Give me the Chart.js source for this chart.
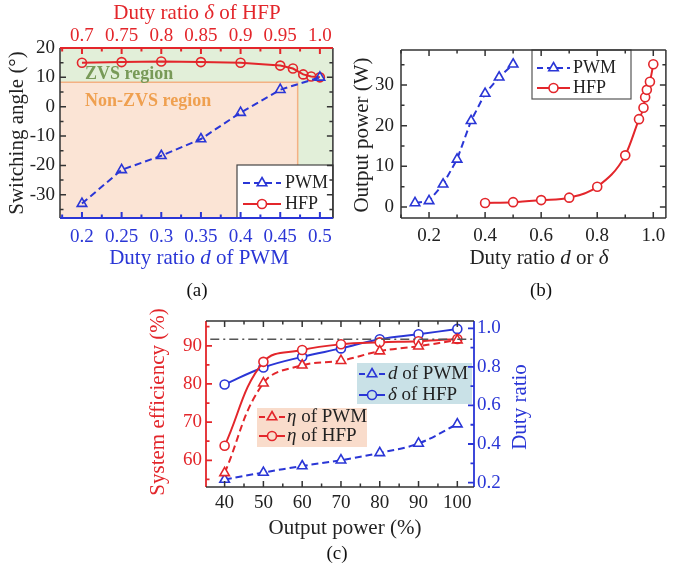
<!DOCTYPE html>
<html>
<head>
<meta charset="utf-8">
<script src="https://cdn.jsdelivr.net/npm/chart.js@4/dist/chart.umd.min.js"></script>
<style>
html, body { margin: 0; padding: 0; background: #fff; }
#wrap { position: relative; width: 673px; height: 566px; overflow: hidden; font-family: "Liberation Serif", "Times New Roman", serif; }
canvas { position: absolute; }
.cap { position: absolute; font-size: 19px; color: #111; transform: translate(-50%, -50%); white-space: nowrap; }
</style>
</head>
<body>
<div id="wrap">
  <canvas id="chartA" width="340" height="280" style="left:0;top:0"></canvas>
  <canvas id="chartB" width="333" height="280" style="left:340px;top:0"></canvas>
  <canvas id="chartC" width="410" height="266" style="left:130px;top:300px"></canvas>
  <div class="cap" style="left:197px;top:290px">(a)</div>
  <div class="cap" style="left:541px;top:290px">(b)</div>
  <div class="cap" style="left:337px;top:553px">(c)</div>
</div>
<script>
// (a) switching angle vs duty ratio
const pwmDutyA = [0.2, 0.25, 0.3, 0.35, 0.4, 0.45, 0.5];
const pwmAngleA = [-33, -21.5, -16.7, -11, -2, 5.8, 10];
const hfpDutyA = [0.7, 0.75, 0.8, 0.85, 0.9, 0.95, 0.966, 0.979, 0.989, 1.0];
const hfpAngleA = [15, 15.2, 15.4, 15.2, 15, 14, 13, 11, 10.3, 10];
const zvsEdgeDuty = 0.472;   // d where non-ZVS region ends
const zvsEdgeAngle = 8.3;    // angle where non-ZVS region ends
const aPwmTicks = [0.2, 0.25, 0.3, 0.35, 0.4, 0.45, 0.5];
const aHfpTicks = [0.7, 0.75, 0.8, 0.85, 0.9, 0.95, 1.0];
const aAngleTicks = [-30, -20, -10, 0, 10, 20];

// (b) output power vs duty ratio
const pwmDutyB = [0.15, 0.2, 0.25, 0.3, 0.35, 0.4, 0.45, 0.5];
const pwmPowerB = [1, 1.5, 5.6, 11.7, 21.2, 27.9, 31.9, 35.1];
const hfpDutyB = [0.4, 0.5, 0.6, 0.7, 0.8, 0.9, 0.949, 0.965, 0.971, 0.977, 0.988, 1.0];
const hfpPowerB = [1, 1.2, 1.7, 2.3, 5, 12.7, 21.6, 24.4, 27, 28.8, 30.8, 35.1];
const bDutyTicks = [0.2, 0.4, 0.6, 0.8, 1.0];
const bPowerTicks = [0, 10, 20, 30];

// (c) efficiency and duty ratio vs output power
const powerPct = [40, 50, 60, 70, 80, 90, 100];
const effPwm = [56.7, 80.2, 84.9, 86.1, 88.6, 89.9, 91.5];
const effHfp = [63.8, 85.8, 88.9, 90.4, 90.9, 91.2, 91.8];
const dutyPwm = [0.216, 0.252, 0.286, 0.316, 0.354, 0.403, 0.503];
const deltaHfp = [0.709, 0.797, 0.852, 0.896, 0.943, 0.969, 0.997];
const refLineX = [36.3, 104.3];
const refLineEff = [91.7, 91.7];
const cPowerTicks = [40, 50, 60, 70, 80, 90, 100];
const cEffTicks = [60, 70, 80, 90];
const cDutyTicks = [0.2, 0.4, 0.6, 0.8, 1.0];

const SERIF = '"Liberation Serif", "Times New Roman", serif';
const RED = '#e3262b';
const BLUE = '#2a36d6';
const INK = '#222';

function pts(xs, ys) {
  return xs.map((x, i) => ({ x: x, y: ys[i] }));
}

// text with italic pieces, centred on (x, y)
function rich(ctx, parts, x, y, size, color, angle, weight) {
  ctx.save();
  ctx.translate(x, y);
  if (angle) ctx.rotate(angle);
  ctx.fillStyle = color;
  ctx.textBaseline = 'middle';
  ctx.textAlign = 'left';
  const fonts = parts.map(p => (p[1] ? 'italic ' : '') + (weight || '') + ' ' + size + 'px ' + SERIF);
  let w = 0;
  parts.forEach((p, i) => { ctx.font = fonts[i]; w += ctx.measureText(p[0]).width; });
  let cx = -w / 2;
  parts.forEach((p, i) => { ctx.font = fonts[i]; ctx.fillText(p[0], cx, 0); cx += ctx.measureText(p[0]).width; });
  ctx.restore();
}

function leftText(ctx, parts, x, y, size, color, weight) {
  ctx.save();
  ctx.fillStyle = color;
  ctx.textBaseline = 'middle';
  ctx.textAlign = 'left';
  let cx = x;
  parts.forEach(p => {
    ctx.font = (p[1] ? 'italic ' : '') + (weight || '') + ' ' + size + 'px ' + SERIF;
    ctx.fillText(p[0], cx, y);
    cx += ctx.measureText(p[0]).width;
  });
  ctx.restore();
}

// frame side with inward major and minor ticks
function drawSide(chart, scaleId, side, color, width) {
  const { ctx, chartArea: a } = chart;
  const s = chart.scales[scaleId];
  const major = s.ticks.map(t => t.value);
  const step = (major[1] - major[0]) / 2;
  const k0 = Math.ceil((s.min - major[0]) / step - 1e-6);
  const k1 = Math.floor((s.max - major[0]) / step + 1e-6);
  ctx.save();
  ctx.strokeStyle = color;
  ctx.lineWidth = width;
  ctx.beginPath();
  if (side === 'left') { ctx.moveTo(a.left, a.top); ctx.lineTo(a.left, a.bottom); }
  if (side === 'right') { ctx.moveTo(a.right, a.top); ctx.lineTo(a.right, a.bottom); }
  if (side === 'top') { ctx.moveTo(a.left, a.top); ctx.lineTo(a.right, a.top); }
  if (side === 'bottom') { ctx.moveTo(a.left, a.bottom); ctx.lineTo(a.right, a.bottom); }
  for (let k = k0; k <= k1; k++) {
    const len = k % 2 === 0 ? 6 : 3.5;
    const p = s.getPixelForValue(major[0] + k * step);
    if (side === 'left') { ctx.moveTo(a.left, p); ctx.lineTo(a.left + len, p); }
    if (side === 'right') { ctx.moveTo(a.right, p); ctx.lineTo(a.right - len, p); }
    if (side === 'top') { ctx.moveTo(p, a.top); ctx.lineTo(p, a.top + len); }
    if (side === 'bottom') { ctx.moveTo(p, a.bottom); ctx.lineTo(p, a.bottom - len); }
  }
  ctx.stroke();
  ctx.restore();
}

function legendBox(ctx, box, items, size) {
  ctx.save();
  if (box.fill) { ctx.fillStyle = box.fill; ctx.fillRect(box.x, box.y, box.w, box.h); }
  if (box.stroke) { ctx.strokeStyle = box.stroke; ctx.lineWidth = 1.2; ctx.strokeRect(box.x, box.y, box.w, box.h); }
  items.forEach(it => {
    const cx = (it.x0 + it.x1) / 2;
    ctx.strokeStyle = it.color;
    ctx.lineWidth = 2;
    ctx.setLineDash(it.dash || []);
    ctx.beginPath();
    ctx.moveTo(it.x0, it.y);
    ctx.lineTo(it.x1, it.y);
    ctx.stroke();
    ctx.setLineDash([]);
    ctx.fillStyle = box.fill || '#fff';
    ctx.lineWidth = 1.6;
    ctx.beginPath();
    if (it.style === 'circle') {
      ctx.arc(cx, it.y, 4.5, 0, Math.PI * 2);
    } else {
      const r = 5.5;
      ctx.moveTo(cx, it.y - r);
      ctx.lineTo(cx + r * 0.866, it.y + r / 2);
      ctx.lineTo(cx - r * 0.866, it.y + r / 2);
      ctx.closePath();
    }
    ctx.fill();
    ctx.stroke();
    leftText(ctx, it.text, it.tx, it.y, size, INK);
  });
  ctx.restore();
}

function axisOpts(ticks, fmt, color, size, pad, extra) {
  return Object.assign({
    type: 'linear',
    bounds: 'data',
    grid: { display: false, drawTicks: false },
    border: { display: false },
    ticks: { color: color, font: { family: SERIF, size: size }, padding: pad, autoSkip: false, maxRotation: 0, callback: fmt },
    afterBuildTicks: s => { s.ticks = ticks.map(v => ({ value: v })); }
  }, extra);
}

function fixSize(w, h) {
  return s => {
    if (w != null) s.width = w;
    if (h != null) s.height = h;
    s.paddingLeft = 0; s.paddingRight = 0; s.paddingTop = 0; s.paddingBottom = 0;
  };
}

const plain = v => String(v);
const oneDec = v => v.toFixed(1);
const topFmt = v => (v === 1 ? '1.0' : String(v));

const baseOpts = {
  responsive: false,
  animation: false,
  events: [],
  plugins: { legend: { display: false }, tooltip: { enabled: false } }
};

function lineSet(data, color, dashed, style, fill, extra) {
  return Object.assign({
    data: data,
    borderColor: color,
    borderWidth: 2,
    borderDash: dashed ? [7, 4] : [],
    pointStyle: style,
    pointRadius: style === 'triangle' ? 5.5 : 4.5,
    pointBorderColor: color,
    pointBackgroundColor: fill,
    pointBorderWidth: 1.6,
    tension: 0
  }, extra);
}

// ---------- (a) ----------
const chartAPlugin = {
  id: 'panelA',
  beforeDatasetsDraw(chart) {
    const { ctx, chartArea: a, scales } = chart;
    ctx.save();
    ctx.fillStyle = '#e2efd9';
    ctx.fillRect(a.left, a.top, a.right - a.left, a.bottom - a.top);
    const ex = scales.x.getPixelForValue(zvsEdgeDuty);
    const ey = scales.y.getPixelForValue(zvsEdgeAngle);
    ctx.fillStyle = '#fbe4d5';
    ctx.fillRect(a.left, ey, ex - a.left, a.bottom - ey);
    ctx.strokeStyle = '#f4b183';
    ctx.lineWidth = 1.5;
    ctx.beginPath();
    ctx.moveTo(a.left, ey);
    ctx.lineTo(ex, ey);
    ctx.lineTo(ex, a.bottom);
    ctx.stroke();
    ctx.restore();
    leftText(ctx, [['ZVS region']], 85, 74, 18, '#789a58', 'bold');
    leftText(ctx, [['Non-ZVS region']], 85, 101, 18, '#efa050', 'bold');
  },
  afterDatasetsDraw(chart) {
    const ctx = chart.ctx;
    legendBox(ctx, { x: 237, y: 165, w: 96, h: 53, fill: '#fff', stroke: '#444' }, [
      { y: 183, x0: 243, x1: 281, color: BLUE, dash: [7, 4], style: 'triangle', text: [['PWM']], tx: 285 },
      { y: 204, x0: 243, x1: 281, color: RED, style: 'circle', text: [['HFP']], tx: 285 }
    ], 18);
    drawSide(chart, 'y', 'left', '#333', 1.5);
    drawSide(chart, 'y', 'right', '#333', 1.5);
    drawSide(chart, 'x2', 'top', RED, 2);
    drawSide(chart, 'x', 'bottom', BLUE, 2);
  },
  afterDraw(chart) {
    const ctx = chart.ctx;
    rich(ctx, [['Switching angle (°)']], 17, 133, 21, INK, -Math.PI / 2);
    rich(ctx, [['Duty ratio '], ['d', true], [' of PWM']], 199, 258, 21, BLUE);
    rich(ctx, [['Duty ratio '], ['δ', true], [' of HFP']], 197, 13, 21, RED);
  }
};

new Chart(document.getElementById('chartA'), {
  type: 'line',
  data: {
    datasets: [
      lineSet(pts(pwmDutyA, pwmAngleA), BLUE, true, 'triangle', 'rgba(0,0,0,0)', { xAxisID: 'x', yAxisID: 'y' }),
      lineSet(pts(hfpDutyA, hfpAngleA), RED, false, 'circle', 'rgba(0,0,0,0)', { xAxisID: 'x2', yAxisID: 'y' })
    ]
  },
  options: Object.assign({}, baseOpts, {
    layout: { padding: { left: 0, right: 7, top: 0, bottom: 0 } },
    scales: {
      x: axisOpts(aPwmTicks, plain, BLUE, 19, 8, { position: 'bottom', min: 0.1723, max: 0.5164, afterFit: fixSize(null, 62) }),
      x2: axisOpts(aHfpTicks, topFmt, RED, 19, 1, { position: 'top', min: 0.6723, max: 1.0164, afterFit: fixSize(null, 48) }),
      y: axisOpts(aAngleTicks, plain, INK, 19, 5, { position: 'left', min: -37.9, max: 20, afterFit: fixSize(60, null) })
    }
  }),
  plugins: [chartAPlugin]
});

// ---------- (b) ----------
const chartBPlugin = {
  id: 'panelB',
  afterDatasetsDraw(chart) {
    const ctx = chart.ctx;
    legendBox(ctx, { x: 192, y: 50, w: 99, h: 49, fill: '#fff', stroke: '#555' }, [
      { y: 68, x0: 197, x1: 230, color: BLUE, dash: [6, 4], style: 'triangle', text: [['PWM']], tx: 233 },
      { y: 88, x0: 197, x1: 230, color: RED, style: 'circle', text: [['HFP']], tx: 233 }
    ], 18);
    drawSide(chart, 'y', 'left', '#333', 1.5);
    drawSide(chart, 'y', 'right', '#333', 1.5);
    drawSide(chart, 'x', 'top', '#333', 1.5);
    drawSide(chart, 'x', 'bottom', '#333', 1.5);
  },
  afterDraw(chart) {
    const ctx = chart.ctx;
    rich(ctx, [['Output power (W)']], 22, 135, 21, INK, -Math.PI / 2);
    rich(ctx, [['Duty ratio '], ['d', true], [' or '], ['δ', true]], 199, 258, 21, INK);
  }
};

new Chart(document.getElementById('chartB'), {
  type: 'line',
  data: {
    datasets: [
      lineSet(pts(pwmDutyB, pwmPowerB), BLUE, true, 'triangle', '#fff'),
      lineSet(pts(hfpDutyB, hfpPowerB), RED, false, 'circle', '#fff', { cubicInterpolationMode: 'monotone' })
    ]
  },
  options: Object.assign({}, baseOpts, {
    layout: { padding: { left: 0, right: 0, top: 50, bottom: 0 } },
    scales: {
      x: axisOpts(bDutyTicks, oneDec, INK, 19, 7, { position: 'bottom', min: 0.1, max: 1.045, afterFit: fixSize(null, 62) }),
      y: axisOpts(bPowerTicks, plain, INK, 19, 7, { position: 'left', min: -2.7, max: 38.6, afterFit: fixSize(61, null) })
    }
  }),
  plugins: [chartBPlugin]
});

// ---------- (c) ----------
const chartCPlugin = {
  id: 'panelC',
  afterDatasetsDraw(chart) {
    const ctx = chart.ctx;
    legendBox(ctx, { x: 227, y: 63, w: 115, h: 41, fill: '#c9e1e7' }, [
      { y: 74, x0: 229, x1: 255, color: BLUE, dash: [6, 4], style: 'triangle', text: [['d', true], [' of PWM']], tx: 258 },
      { y: 95, x0: 229, x1: 255, color: BLUE, style: 'circle', text: [['δ', true], [' of HFP']], tx: 258 }
    ], 19);
    legendBox(ctx, { x: 127, y: 108, w: 110, h: 39, fill: '#f9dccb' }, [
      { y: 117, x0: 129, x1: 155, color: RED, dash: [6, 4], style: 'triangle', text: [['η', true], [' of PWM']], tx: 157 },
      { y: 136, x0: 129, x1: 155, color: RED, style: 'circle', text: [['η', true], [' of HFP']], tx: 157 }
    ], 19);
    drawSide(chart, 'y', 'left', RED, 1.8);
    drawSide(chart, 'y2', 'right', BLUE, 1.8);
    drawSide(chart, 'x', 'top', '#333', 1.5);
    drawSide(chart, 'x', 'bottom', '#333', 1.5);
  },
  afterDraw(chart) {
    const ctx = chart.ctx;
    rich(ctx, [['System efficiency (%)']], 28, 102, 21, RED, -Math.PI / 2);
    rich(ctx, [['Duty ratio']], 390, 107, 21, BLUE, -Math.PI / 2);
    rich(ctx, [['Output power (%)']], 215, 228, 21, INK);
  }
};

new Chart(document.getElementById('chartC'), {
  type: 'line',
  data: {
    datasets: [
      { data: pts(refLineX, refLineEff), yAxisID: 'y', borderColor: '#555', borderWidth: 1.5, borderDash: [9, 4, 2, 4], pointRadius: 0 },
      lineSet(pts(powerPct, effPwm), RED, true, 'triangle', '#fff', { yAxisID: 'y', tension: 0.4 }),
      lineSet(pts(powerPct, effHfp), RED, false, 'circle', '#fff', { yAxisID: 'y', tension: 0.4 }),
      lineSet(pts(powerPct, dutyPwm), BLUE, true, 'triangle', '#fff', { yAxisID: 'y2', tension: 0.4 }),
      lineSet(pts(powerPct, deltaHfp), BLUE, false, 'circle', '#fff', { yAxisID: 'y2', tension: 0.4 })
    ]
  },
  options: Object.assign({}, baseOpts, {
    layout: { padding: { left: 0, right: 0, top: 21, bottom: 0 } },
    scales: {
      x: axisOpts(cPowerTicks, plain, INK, 19, 5, { position: 'bottom', min: 35.2, max: 104.3, afterFit: fixSize(null, 79) }),
      y: axisOpts(cEffTicks, plain, RED, 19, 4, { position: 'left', min: 53, max: 96.5, afterFit: fixSize(76, null) }),
      y2: axisOpts(cDutyTicks, oneDec, BLUE, 19, 3, { position: 'right', min: 0.177, max: 1.038, afterFit: fixSize(66, null) })
    }
  }),
  plugins: [chartCPlugin]
});
</script>
</body>
</html>
